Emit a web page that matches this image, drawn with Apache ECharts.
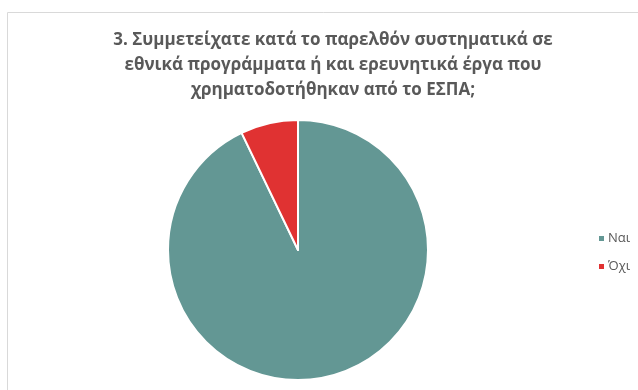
<!DOCTYPE html>
<html>
<head>
<meta charset="utf-8">
<script src="https://cdn.jsdelivr.net/npm/echarts@6/dist/echarts.min.js"></script>
<style>
  html, body { margin: 0; padding: 0; background: #fff; }
  #chart { width: 638px; height: 390px; }
</style>
</head>
<body>
<div id="chart"></div>
<script>
var titleText = '3. Συμμετείχατε κατά το παρελθόν συστηματικά σε\nεθνικά προγράμματα ή και ερευνητικά έργα που\nχρηματοδοτήθηκαν από το ΕΣΠΑ;';
var categories = ['Ναι', 'Όχι'];
var values = [26, 2];
var colors = ['#639794', '#E03232'];

var data = [];
for (var i = 0; i < categories.length; i++) {
  data.push({ name: categories[i], value: values[i] });
}

var chart = echarts.init(document.getElementById('chart'));
chart.setOption({
  animation: false,
  color: colors,
  graphic: [{
    type: 'rect',
    shape: { x: 7.5, y: 12.5, width: 700, height: 500 },
    style: { fill: 'none', stroke: '#d9d9d9', lineWidth: 1 },
    silent: true
  }],
  title: {
    text: titleText,
    left: 328,
    top: 23,
    textAlign: 'center',
    textStyle: {
      fontFamily: 'Open Sans',
      fontSize: 17,
      fontWeight: 'bold',
      color: '#595959',
      lineHeight: 25
    }
  },
  legend: {
    orient: 'vertical',
    left: 592,
    top: 227,
    itemWidth: 7,
    itemHeight: 7,
    itemGap: 15,
    icon: 'rect',
    textStyle: {
      fontFamily: 'Open Sans',
      fontSize: 13,
      color: '#595959',
      padding: [0, 0, 0, -2]
    },
    data: categories
  },
  series: [{
    type: 'pie',
    center: [298, 250],
    radius: 130,
    startAngle: 90,
    clockwise: true,
    label: { show: false },
    labelLine: { show: false },
    itemStyle: { borderColor: '#fff', borderWidth: 2 },
    data: data
  }]
});
</script>
</body>
</html>
